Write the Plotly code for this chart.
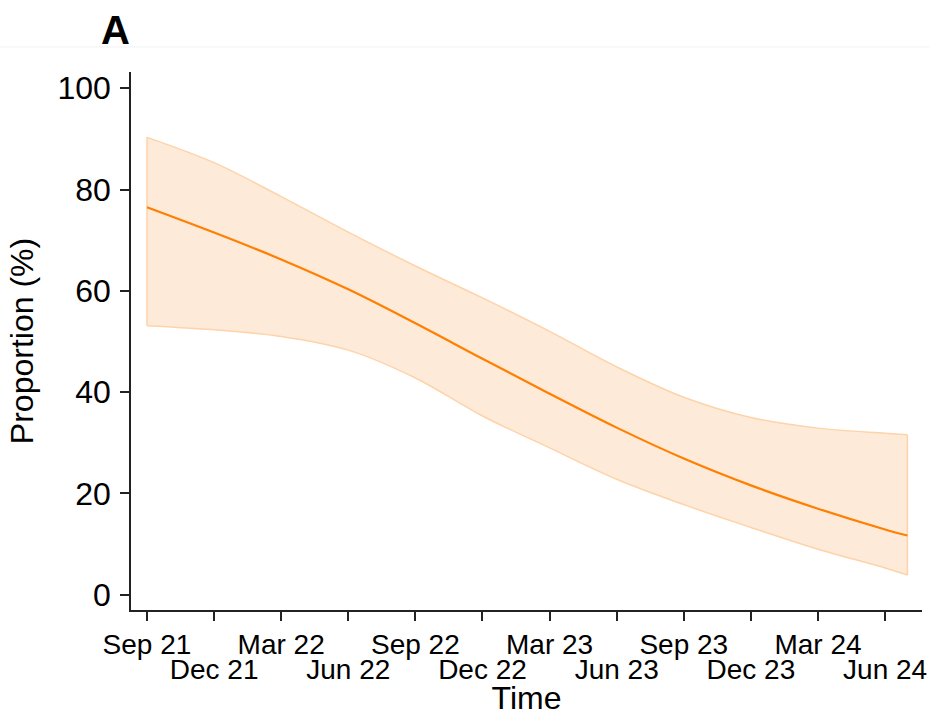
import plotly.graph_objects as go

# ---- data ----
months = [0, 3, 6, 9, 12, 15, 18, 21, 24, 27, 30, 33, 34]  # months since Sep 2021
estimate = [76.5, 71.5, 66.2, 60.3, 53.6, 46.6, 39.7, 33.0, 26.9, 21.6, 17.0, 12.9, 11.7]
upper_ci = [90.3, 85.3, 78.6, 71.6, 64.9, 58.6, 52.0, 45.0, 39.0, 35.0, 32.9, 31.9, 31.6]
lower_ci = [53.1, 52.3, 51.0, 48.3, 42.8, 35.3, 29.0, 22.8, 17.8, 13.3, 9.0, 5.3, 3.9]

tick_months = [0, 3, 6, 9, 12, 15, 18, 21, 24, 27, 30, 33]
tick_labels = ["Sep 21", "Dec 21", "Mar 22", "Jun 22", "Sep 22", "Dec 22",
               "Mar 23", "Jun 23", "Sep 23", "Dec 23", "Mar 24", "Jun 24"]
y_ticks = [0, 20, 40, 60, 80, 100]

FONT = "Arial, Liberation Sans, sans-serif"
ORANGE = "#FF7F00"
BAND_FILL = "#FEEAD8"
BAND_EDGE = "#FDD3AA"
AXIS = "#222222"

fig = go.Figure()
# lower bound
fig.add_trace(go.Scatter(x=months, y=lower_ci, mode="lines",
                         line=dict(color=BAND_EDGE, width=1.5, shape="spline"),
                         hoverinfo="skip", showlegend=False))
# upper bound, filled to lower
fig.add_trace(go.Scatter(x=months, y=upper_ci, mode="lines", fill="tonexty",
                         fillcolor=BAND_FILL,
                         line=dict(color=BAND_EDGE, width=1.5, shape="spline"),
                         hoverinfo="skip", showlegend=False))
# vertical band edges
for i in (0, -1):
    fig.add_trace(go.Scatter(x=[months[i], months[i]], y=[lower_ci[i], upper_ci[i]],
                             mode="lines", line=dict(color=BAND_EDGE, width=1.5),
                             hoverinfo="skip", showlegend=False))
# estimate line
fig.add_trace(go.Scatter(x=months, y=estimate, mode="lines",
                         line=dict(color=ORANGE, width=2.2, shape="spline"),
                         showlegend=False))
# invisible trace on second x axis for the lower row of tick labels
fig.add_trace(go.Scatter(x=[months[0]], y=[estimate[0]], xaxis="x2", mode="markers",
                         marker=dict(opacity=0), hoverinfo="skip", showlegend=False))

xr = [-0.715, 34.65]
fig.update_layout(
    width=929, height=716,
    margin=dict(l=131, r=7, t=72, b=106),
    paper_bgcolor="white", plot_bgcolor="white",
    font=dict(family=FONT, color="black"),
    xaxis=dict(
        range=xr, tickmode="array", tickvals=tick_months,
        ticktext=[t if k % 2 == 0 else "" for k, t in enumerate(tick_labels)],
        ticks="outside", ticklen=9, tickwidth=1.5, tickcolor=AXIS,
        showline=True, linecolor=AXIS, linewidth=1.5,
        showgrid=False, zeroline=False,
        tickfont=dict(size=28, family=FONT),
        title=dict(text="Time", font=dict(size=32, family=FONT), standoff=30),
        automargin=False,
    ),
    xaxis2=dict(
        range=xr, overlaying="x", side="bottom", tickmode="array",
        tickvals=[m for k, m in enumerate(tick_months) if k % 2 == 1],
        ticktext=[t for k, t in enumerate(tick_labels) if k % 2 == 1],
        ticks="", showline=False, showgrid=False, zeroline=False,
        tickfont=dict(size=28, family=FONT),
        ticklabelstandoff=40, automargin=False,
    ),
    yaxis=dict(
        range=[-3, 103.2], tickmode="array", tickvals=y_ticks,
        ticks="outside", ticklen=9, tickwidth=1.5, tickcolor=AXIS,
        showline=True, linecolor=AXIS, linewidth=1.5,
        showgrid=False, zeroline=False,
        tickfont=dict(size=32, family=FONT), ticklabelstandoff=3,
        title=dict(text="Proportion (%)", font=dict(size=32, family=FONT), standoff=14),
        automargin=False,
    ),
    shapes=[dict(type="line", xref="paper", yref="paper",
                 x0=-0.166, x1=1.009, y0=1.0465, y1=1.0465,
                 line=dict(color="#F2F2F2", width=1))],
    annotations=[dict(text="<b>A</b>", xref="paper", yref="paper",
                      x=-0.0202, y=1.078, xanchor="center", yanchor="middle",
                      showarrow=False, font=dict(size=40, family=FONT, color="black"))],
)

fig.write_html("out.html", config={"displayModeBar": False},
               post_script="document.body.style.margin='0';")
